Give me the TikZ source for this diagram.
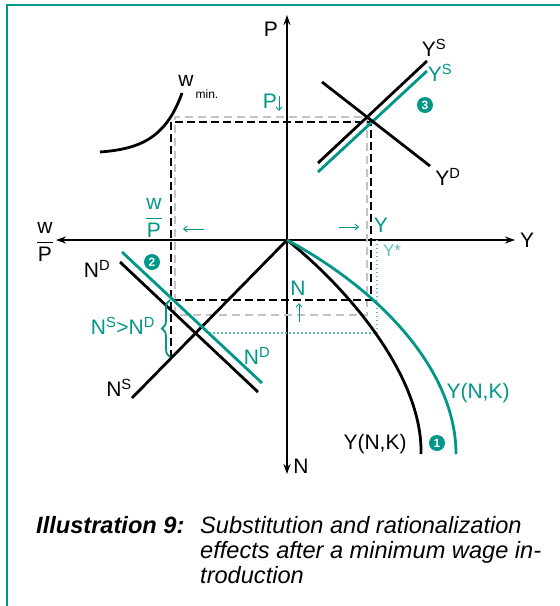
\documentclass[tikz,border=0pt]{standalone}
\usepackage{fontspec}
\setmainfont{Liberation Sans}
\usetikzlibrary{arrows.meta,decorations.pathreplacing}
\definecolor{tl}{RGB}{0,150,136}
\definecolor{tllight}{RGB}{100,188,176}
\definecolor{gr}{RGB}{195,195,195}
\newcommand\sups[1]{\textsuperscript{#1}}
\newcommand\wfrac[2]{$\displaystyle\frac{\hbox{#1}}{\hbox{#2}}$}
\begin{document}
\begin{tikzpicture}[x=1pt,y=-1pt,
  lbl/.style={inner sep=0pt, font=\fontsize{21}{21}\selectfont},
  tlbl/.style={lbl, text=tl},
  axis/.style={line width=2.1pt, -{Stealth[length=10pt,width=7pt]}},
  blk/.style={line width=2.8pt, black},
  tcurve/.style={line width=2.8pt, tl},
  bdash/.style={line width=2.8pt, dash pattern=on 8pt off 4pt},
  gdash/.style={line width=2.6pt, gr, dash pattern=on 8pt off 5pt},
  tdot/.style={line width=2pt, tllight, dash pattern=on 1.5pt off 2.5pt},
  smallarrow/.style={tl, line width=0.9pt, -{Straight Barb[length=3.5pt,width=6pt]}},
  num/.style={circle, fill=tl, text=white, inner sep=0pt, minimum size=16pt, font=\bfseries\fontsize{12}{12}\selectfont},
  frameline/.style={tl, line width=2.2pt},
  captxt/.style={inner sep=0pt, anchor=base west, font=\fontsize{23.6}{23.6}\selectfont\itshape},
  capbold/.style={inner sep=0pt, anchor=base west, font=\fontsize{23.6}{23.6}\selectfont\bfseries\itshape}]
\useasboundingbox (0,0) rectangle (560,606);
% frame
\coordinate (fbl) at (7,606);
\coordinate (ftl) at (7,5);
\coordinate (ftr) at (560,5);
\draw[frameline] (fbl) -- (ftl) -- (ftr);
% axes
\coordinate (O) at (287,240);
\coordinate (ytip) at (515,240);
\coordinate (xtip) at (56,240);
\coordinate (ptip) at (287,15);
\coordinate (ntip) at (287,474);
\draw[axis] (O) -- (ytip);
\draw[axis] (O) -- (xtip);
\draw[axis] (O) -- (ptip);
\draw[axis] (O) -- (ntip);
% gray dashed rectangle
\coordinate (g1) at (175,117);
\coordinate (g2) at (367,117);
\coordinate (g3) at (367,315);
\coordinate (g4) at (175,315);
\draw[gdash] (g4) -- (g1) -- (g2) -- (g3) -- (g4);
% teal dotted
\coordinate (d1) at (209,333);
\coordinate (d2) at (377,333);
\coordinate (d3) at (377,240);
\draw[tdot] (d1) -- (d2) -- (d3);
% black dashed
\coordinate (b1) at (171,122);
\coordinate (b2) at (371,122);
\coordinate (b3) at (371,300);
\coordinate (b4) at (171,300);
\coordinate (b5) at (171,358);
\draw[bdash] (b5) -- (b1) -- (b2) -- (b3) -- (b4);
% w_min curve
\coordinate (w0) at (100,152);
\coordinate (w1) at (182,93);
\draw[blk] (w0) .. controls (140,149) and (166,138) .. (w1);
% goods market
\coordinate (ysb1) at (318,163); \coordinate (ysb2) at (427,61);
\coordinate (yst1) at (318,172); \coordinate (yst2) at (427,71);
\coordinate (yd1) at (322,82);   \coordinate (yd2) at (430,166);
\draw[blk] (ysb1) -- (ysb2);
\draw[tcurve] (yst1) -- (yst2);
\draw[blk] (yd1) -- (yd2);
% labour market
\coordinate (ns1) at (132,398);
\coordinate (ndb1) at (120,262); \coordinate (ndb2) at (258,392);
\coordinate (ndt1) at (122,252); \coordinate (ndt2) at (262,383);
\draw[blk] (ns1) -- (O);
\draw[blk] (ndb1) -- (ndb2);
\draw[tcurve] (ndt1) -- (ndt2);
% production functions
\coordinate (pb) at (421,454);
\coordinate (pt) at (456,454);
\draw[blk] (O) .. controls (350,290) and (423,378) .. (pb);
\draw[tcurve] (O) .. controls (380,290) and (456,370) .. (pt);
% brace
\coordinate (br1) at (170,357);
\coordinate (br2) at (170,300);
\draw[tl, line width=1.8pt, decorate, decoration={brace, amplitude=8pt}] (br1) -- (br2);
% small arrows
\coordinate (a1s) at (279,96);  \coordinate (a1e) at (279,111);
\coordinate (a2s) at (204,229); \coordinate (a2e) at (183,229);
\coordinate (a3s) at (339,227); \coordinate (a3e) at (359,227);
\coordinate (a4s) at (299,322); \coordinate (a4e) at (299,303);
\draw[smallarrow] (a1s) -- (a1e);
\draw[smallarrow] (a2s) -- (a2e);
\draw[smallarrow] (a3s) -- (a3e);
\draw[smallarrow] (a4s) -- (a4e);
% labels
\node[lbl] (lP) at (271,29) {P};
\node[lbl] (lY) at (527,240) {Y};
\node[lbl] (lN) at (301,466) {N};
\node[lbl] (lwP) at (45,242) {\wfrac{w}{P}};
\node[tlbl] (lwPt) at (154,218) {\wfrac{w}{P}};
\node[lbl] (lw) at (186,81) {w};
\node[inner sep=0pt, font=\fontsize{12}{12}\selectfont] (lmin) at (207,94) {min.};
\node[tlbl] (lPt) at (270,101) {P};
\node[lbl] (lYSb) at (434,48) {Y\sups{S}};
\node[tlbl] (lYSt) at (440,73) {Y\sups{S}};
\node[num] (n3) at (425,105) {3};
\node[lbl] (lYD) at (448,177) {Y\sups{D}};
\node[tlbl] (lYt) at (381,225) {Y};
\node[inner sep=0pt, text=tllight, font=\fontsize{17}{17}\selectfont] (lYstar) at (392,251) {Y*};
\node[tlbl] (lNt) at (298,288) {N};
\node[num] (n2) at (152,262) {2};
\node[lbl] (lNDb) at (97,269) {N\sups{D}};
\node[tlbl] (lNSND) at (123,326) {N\sups{S}>N\sups{D}};
\node[lbl] (lNS) at (119,388) {N\sups{S}};
\node[tlbl] (lNDt) at (257,356) {N\sups{D}};
\node[tlbl] (lYNKt) at (478,393) {Y(N,K)};
\node[lbl] (lYNKb) at (375,444) {Y(N,K)};
\node[num] (n1) at (437,443) {1};
% caption
\node[capbold] (c0) at (36,533) {Illustration 9:};
\node[captxt] (c1) at (200,533) {Substitution and rationalization};
\node[captxt] (c2) at (200,558) {effects after a minimum wage in-};
\node[captxt] (c3) at (200,583) {troduction};
\end{tikzpicture}
\end{document}
